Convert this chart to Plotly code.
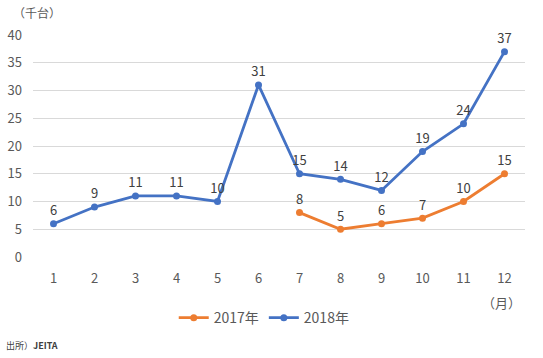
import plotly.graph_objects as go

months = [1, 2, 3, 4, 5, 6, 7, 8, 9, 10, 11, 12]
month_labels = [str(m) for m in months]
months_2017 = [7, 8, 9, 10, 11, 12]
values_2017 = [8, 5, 6, 7, 10, 15]
values_2018 = [6, 9, 11, 11, 10, 31, 15, 14, 12, 19, 24, 37]
y_ticks = [0, 5, 10, 15, 20, 25, 30, 35, 40]

FONT = "Noto Sans CJK JP"
fig = go.Figure()
fig.add_trace(go.Scatter(
    x=months_2017, y=values_2017, name="2017年", mode="lines+markers+text",
    line=dict(color="#ED7D31", width=2.8), marker=dict(size=7, color="#ED7D31"),
    text=[str(v) for v in values_2017], textposition="top center", cliponaxis=False,
    textfont=dict(color="#404040", size=13, family=FONT)))
fig.add_trace(go.Scatter(
    x=months, y=values_2018, name="2018年", mode="lines+markers+text",
    line=dict(color="#4472C4", width=2.8), marker=dict(size=7, color="#4472C4"),
    text=[str(v) for v in values_2018], textposition="top center", cliponaxis=False,
    textfont=dict(color="#404040", size=13, family=FONT)))

fig.update_layout(
    width=543, height=358,
    margin=dict(l=33, r=18, t=35, b=101),
    paper_bgcolor="white", plot_bgcolor="white",
    font=dict(family=FONT, color="#595959", size=13),
    xaxis=dict(range=[0.5, 12.5], tickvals=months, ticktext=month_labels,
               showgrid=False, zeroline=False, showline=False, ticks="",
               ticklabelstandoff=12, automargin=False),
    yaxis=dict(range=[0, 40], tickvals=y_ticks, showgrid=True, gridcolor="#D9D9D9",
               gridwidth=1, zeroline=False, showline=False, ticks="",
               ticklabelstandoff=10, automargin=False),
    showlegend=True,
    legend=dict(orientation="h", x=0.47, xanchor="center", y=-0.275, yanchor="middle",
                font=dict(size=14, color="#595959"), traceorder="normal"),
    annotations=[
        dict(text="（千台）", xref="paper", yref="paper", x=-0.045, y=1.1,
             xanchor="left", yanchor="middle", showarrow=False,
             font=dict(size=12, color="#595959")),
        dict(text="（月）", xref="paper", yref="paper", x=0.995, y=-0.205,
             xanchor="right", yanchor="middle", showarrow=False,
             font=dict(size=13, color="#595959")),
        dict(text="出所）<b>JEITA</b>", xref="paper", yref="paper", x=-0.058, y=-0.4,
             xanchor="left", yanchor="middle", showarrow=False,
             font=dict(size=9, color="#404040")),
    ],
)
fig.write_html("out.html")
